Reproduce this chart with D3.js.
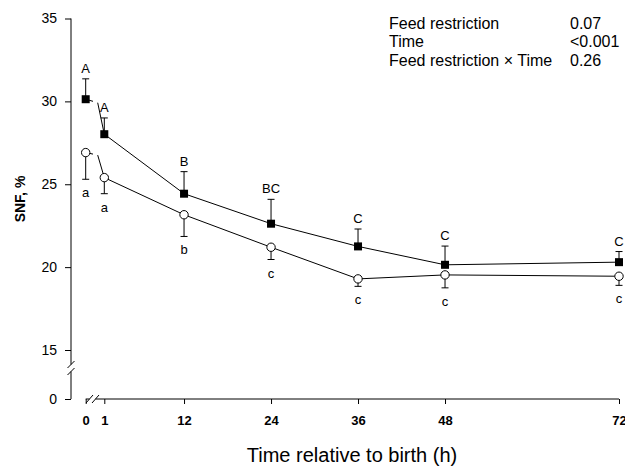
<!DOCTYPE html>
<html>
<head>
<meta charset="utf-8">
<script src="https://cdn.jsdelivr.net/npm/d3@7"></script>
<style>
  body { margin: 0; background: #fff; }
  svg { font-family: "Liberation Sans", Arial, sans-serif; }
</style>
</head>
<body>
<svg id="chart"></svg>
<script>
// hours after birth
const hours = [0, 1, 12, 24, 36, 48, 72];

// filled squares, SE drawn upward
const filledMean = [30.13, 28.02, 24.43, 22.62, 21.25, 20.14, 20.30];
const filledSE   = [1.23, 0.98, 1.33, 1.47, 1.05, 1.13, 0.64];
const filledTags = ['A', 'A', 'B', 'BC', 'C', 'C', 'C'];

// open circles, SE drawn downward
const openMean = [26.91, 25.40, 23.16, 21.20, 19.29, 19.53, 19.45];
const openSE   = [1.61, 0.97, 1.31, 0.74, 0.45, 0.78, 0.55];
const openTags = ['a', 'a', 'b', 'c', 'c', 'c', 'c'];

const xTicks = [0, 1, 12, 24, 36, 48, 72];
const yTicks = [0, 15, 20, 25, 30, 35];

const statTerms = ['Feed restriction', 'Time', 'Feed restriction \u00d7 Time'];
const statP = ['0.07', '<0.001', '0.26'];

const width = 625;
const height = 466;

const chart = d3.select('#chart')
    .attr('width', width)
    .attr('height', height);

// broken axes: piecewise scales
const x = d3.scaleLinear()
    .domain([0, 1, 72])
    .range([85.7, 104.3, 619]);

const y = d3.scaleLinear()
    .domain([0, 15, 35])
    .range([399, 350, 18.5]);

// line scale across the x break (0 -> 1 gap)
const breakA = 0.06, breakB = 0.1;
const xLine = d3.scaleLinear()
    .domain([0, breakA, breakB, 1, 72])
    .range([85.7, 93, 97.7, 104.3, 619]);

const axisY = 71;
const axisX = 399;

// y axis
const yAxis = chart.append('g')
    .attr('transform', `translate(${axisY},0)`)
    .call(d3.axisLeft(y).tickValues(yTicks).tickSize(6).tickSizeOuter(0));
yAxis.select('.domain').remove();
yAxis.selectAll('text')
    .attr('x', -14)
    .style('font-size', '14px')
    .style('font-family', '"Liberation Sans", Arial, sans-serif')
    .attr('fill', '#000');
yAxis.selectAll('line').attr('stroke', '#000');

const yBreakTop = 364.5, yBreakBottom = 371.5;
chart.append('line')
    .attr('x1', axisY).attr('x2', axisY)
    .attr('y1', y(35)).attr('y2', yBreakTop)
    .attr('stroke', '#000');
chart.append('line')
    .attr('x1', axisY).attr('x2', axisY)
    .attr('y1', yBreakBottom).attr('y2', y(0))
    .attr('stroke', '#000');
[yBreakTop, yBreakBottom].forEach(function(b) {
    chart.append('line')
        .attr('x1', axisY - 3.5).attr('y1', b + 3.5)
        .attr('x2', axisY + 3.5).attr('y2', b - 3.5)
        .attr('stroke', '#000');
});

// x axis
const xAxis = chart.append('g')
    .attr('transform', `translate(0,${axisX})`)
    .call(d3.axisBottom(x).tickValues(xTicks).tickSize(5).tickSizeOuter(0));
xAxis.select('.domain').remove();
xAxis.selectAll('text')
    .attr('y', 17)
    .style('font-size', '13px')
    .style('font-weight', 'bold')
    .style('font-family', '"Liberation Sans", Arial, sans-serif')
    .attr('fill', '#000');
xAxis.selectAll('line').attr('stroke', '#000');

const xBreakLeft = 89.5, xBreakRight = 95.5;
chart.append('line')
    .attr('x1', x(0)).attr('x2', xBreakLeft)
    .attr('y1', axisX).attr('y2', axisX)
    .attr('stroke', '#000');
chart.append('line')
    .attr('x1', xBreakRight).attr('x2', x(72))
    .attr('y1', axisX).attr('y2', axisX)
    .attr('stroke', '#000');
[xBreakLeft, xBreakRight].forEach(function(b) {
    chart.append('line')
        .attr('x1', b - 3.5).attr('y1', axisX + 4)
        .attr('x2', b + 3.5).attr('y2', axisX - 4)
        .attr('stroke', '#000');
});

// axis titles
chart.append('text')
    .attr('transform', 'translate(25,199) rotate(-90)')
    .attr('text-anchor', 'middle')
    .style('font-size', '14px')
    .style('font-weight', 'bold')
    .text('SNF, %');

chart.append('text')
    .attr('x', 352)
    .attr('y', 462)
    .attr('text-anchor', 'middle')
    .style('font-size', '20px')
    .text('Time relative to birth (h)');

// stats box
const stats = chart.append('g');
statTerms.forEach(function(term, i) {
    stats.append('text')
        .attr('x', 389)
        .attr('y', 28.5 + i * 18.7)
        .style('font-size', '16px')
        .text(term);
    stats.append('text')
        .attr('x', 570)
        .attr('y', 28.5 + i * 18.7)
        .style('font-size', '16px')
        .text(statP[i]);
});

function drawSeries(mean, se, tags, dir, marker) {
    const pts = hours.map(function(h, i) { return [h, mean[i]]; });
    const slope = (mean[1] - mean[0]) / (hours[1] - hours[0]);

    const line = d3.line()
        .x(function(d) { return xLine(d[0]); })
        .y(function(d) { return y(d[1]); });

    // segment before the break
    chart.append('path')
        .attr('d', line([pts[0], [breakA, mean[0] + slope * breakA]]))
        .attr('fill', 'none')
        .attr('stroke', '#000');
    // segment after the break
    chart.append('path')
        .attr('d', line([[breakB, mean[0] + slope * breakB]].concat(pts.slice(1))))
        .attr('fill', 'none')
        .attr('stroke', '#000');

    const g = chart.append('g')
        .selectAll('g')
        .data(pts)
        .enter()
        .append('g');

    g.append('line')
        .attr('x1', function(d) { return x(d[0]); })
        .attr('x2', function(d) { return x(d[0]); })
        .attr('y1', function(d) { return y(d[1]); })
        .attr('y2', function(d, i) { return y(d[1] + dir * se[i]); })
        .attr('stroke', '#000');
    g.append('line')
        .attr('x1', function(d) { return x(d[0]) - 3.5; })
        .attr('x2', function(d) { return x(d[0]) + 3.5; })
        .attr('y1', function(d, i) { return y(d[1] + dir * se[i]); })
        .attr('y2', function(d, i) { return y(d[1] + dir * se[i]); })
        .attr('stroke', '#000');

    if (marker === 'square') {
        g.append('rect')
            .attr('x', function(d) { return x(d[0]) - 4; })
            .attr('y', function(d) { return y(d[1]) - 4; })
            .attr('width', 8)
            .attr('height', 8)
            .attr('fill', '#000');
    } else {
        g.append('circle')
            .attr('cx', function(d) { return x(d[0]); })
            .attr('cy', function(d) { return y(d[1]); })
            .attr('r', 4.2)
            .attr('fill', '#fff')
            .attr('stroke', '#000');
    }

    g.append('text')
        .attr('x', function(d) { return x(d[0]); })
        .attr('y', function(d, i) {
            const end = y(d[1] + dir * se[i]);
            return dir > 0 ? end - 6 : end + 18;
        })
        .attr('text-anchor', 'middle')
        .style('font-size', '13px')
        .attr('fill', '#000')
        .text(function(d, i) { return tags[i]; });
}

drawSeries(openMean, openSE, openTags, -1, 'circle');
drawSeries(filledMean, filledSE, filledTags, 1, 'square');
</script>
</body>
</html>
